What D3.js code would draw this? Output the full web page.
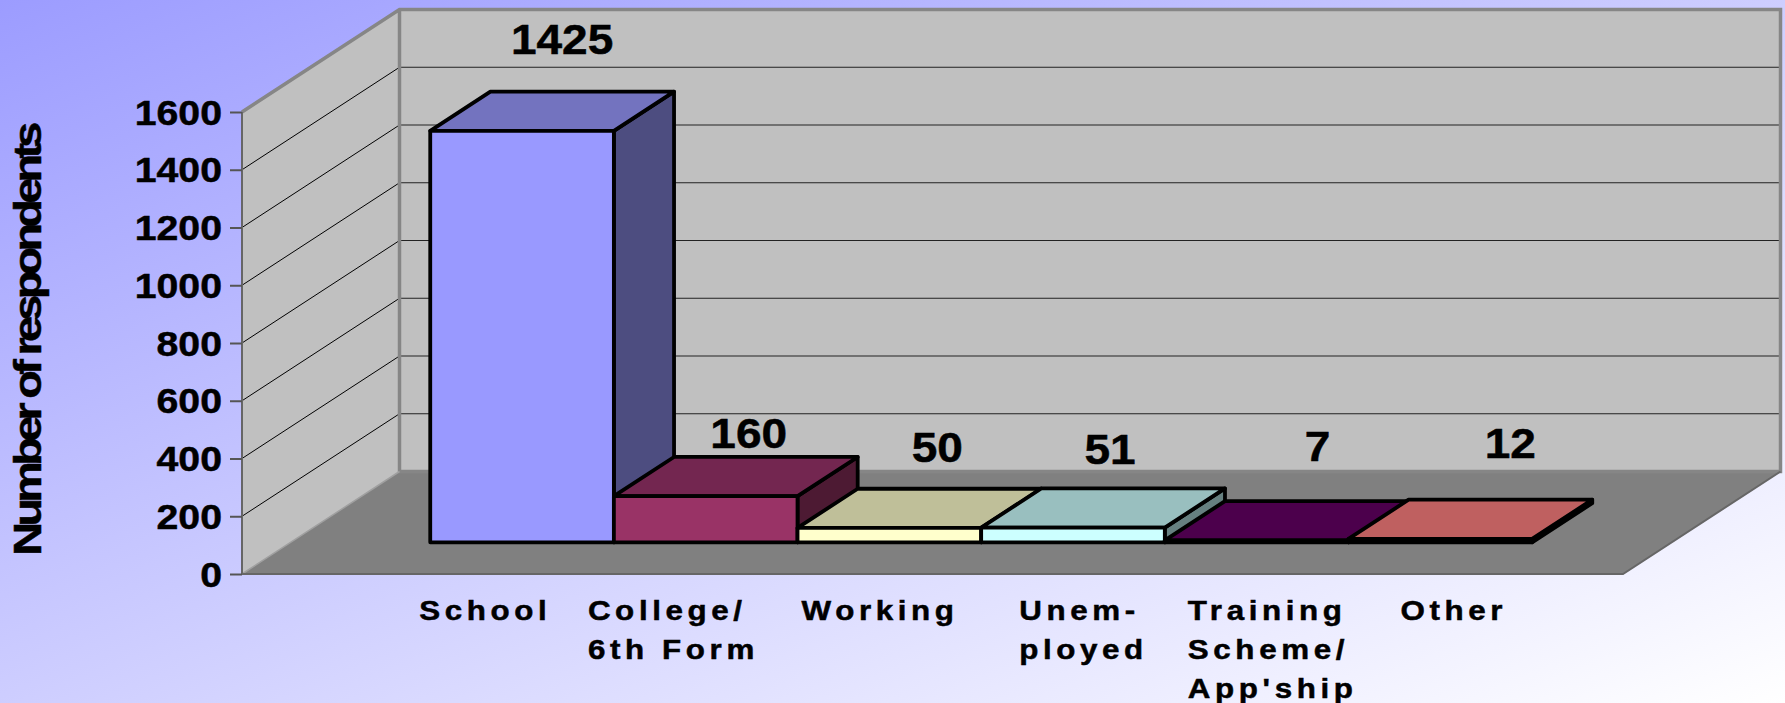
<!DOCTYPE html>
<html>
<head>
<meta charset="utf-8">
<script src="https://cdnjs.cloudflare.com/ajax/libs/d3/7.8.5/d3.min.js"></script>
<style>
  html, body { margin: 0; padding: 0; overflow: hidden; }
  svg { display: block; }
  text { font-family: "Liberation Sans", Arial, sans-serif; font-weight: bold; fill: #000; stroke: #000; stroke-width: 0.5px; }
</style>
</head>
<body>
<div id="chart"></div>
<script>
const categories = ["School", "College/ 6th Form", "Working", "Unem- ployed", "Training Scheme/ App'ship", "Other"];
const categoryLines = [["School"], ["College/", "6th Form"], ["Working"], ["Unem-", "ployed"], ["Training", "Scheme/", "App'ship"], ["Other"]];
const values = [1425, 160, 50, 51, 7, 12];
const yTicks = [0, 200, 400, 600, 800, 1000, 1200, 1400, 1600];
const frontColors = ["#9999ff", "#993366", "#ffffcc", "#ccffff", "#660066", "#ff8080"];
const topColors = ["#7373bf", "#732650", "#bfbf99", "#99bfbf", "#4c004c", "#bf6060"];
const sideColors = ["#4d4d80", "#4d1a33", "#808066", "#668080", "#330033", "#804040"];

var width = 1785, height = 703;
var stretch = 1.1;

// hand placed offsets of the labels, the original was dragged around
var valueNudgeX = [40, 43, 48, 37, 61, 70];
var valueNudgeY = [-77, -48, -66, -64, -79, -81];
var categoryLeft = [-11, -26, 4, 38, 23, 52];

var svg = d3.select("#chart").append("svg")
    .attr("width", width)
    .attr("height", height);

var grad = svg.append("defs").append("linearGradient")
    .attr("id", "bg")
    .attr("x1", 0).attr("y1", 0)
    .attr("x2", 1).attr("y2", 1);
grad.append("stop").attr("offset", "0%").attr("stop-color", "#9c9cff");
grad.append("stop").attr("offset", "100%").attr("stop-color", "#ffffff");

svg.append("rect")
    .attr("width", width)
    .attr("height", height)
    .attr("fill", "url(#bg)");

var x = d3.scaleBand().domain(categories).range([242, 1623]).paddingInner(0).paddingOuter(0.76);
var y = d3.scaleLinear().domain([0, 1600]).range([574, 112]);
var depthX = 157.5, depthY = 102.5;

// the bars stand in the middle of the floor
var z0 = 0.309, z1 = 0.691;

function px(a, z) { return a + z * depthX; }
function py(v, z) { return y(v) - z * depthY; }
function pts(list) {
    return list.map(function(p) { return px(p[0], p[2]) + "," + py(p[1], p[2]); }).join(" ");
}

var left = x.range()[0], right = x.range()[1], maxV = y.domain()[1];

// walls and floor
svg.append("polygon")
    .attr("points", pts([[left, maxV, 1], [right, maxV, 1], [right, 0, 1], [left, 0, 1]]))
    .attr("fill", "#c0c0c0");
svg.append("polygon")
    .attr("points", pts([[left, maxV, 0], [left, maxV, 1], [left, 0, 1], [left, 0, 0]]))
    .attr("fill", "#c0c0c0");
svg.append("polygon")
    .attr("points", pts([[left, 0, 0], [left, 0, 1], [right, 0, 1], [right, 0, 0]]))
    .attr("fill", "#808080");

// gridlines
var grid = yTicks.filter(function(d) { return d > 0 && d < maxV; });
svg.selectAll("line.back").data(grid).enter().append("line")
    .attr("class", "back")
    .attr("x1", px(left, 1)).attr("x2", px(right, 1))
    .attr("y1", function(d) { return py(d, 1); })
    .attr("y2", function(d) { return py(d, 1); })
    .attr("stroke", "#222").attr("stroke-width", 1.2);
svg.selectAll("line.side").data(grid.concat([])).enter().append("line")
    .attr("class", "side")
    .attr("x1", px(left, 0)).attr("x2", px(left, 1))
    .attr("y1", function(d) { return py(d, 0); })
    .attr("y2", function(d) { return py(d, 1); })
    .attr("stroke", "#000").attr("stroke-width", 1);

// wall edges
var edge = d3.line();
function edgeLine(list, color, w) {
    svg.append("path")
        .attr("d", edge(list.map(function(p) { return [px(p[0], p[2]), py(p[1], p[2])]; })))
        .attr("fill", "none")
        .attr("stroke", color)
        .attr("stroke-width", w);
}
edgeLine([[left, maxV, 0], [left, maxV, 1], [right, maxV, 1], [right, 0, 1], [left, 0, 1], [left, maxV, 1]], "#868686", 3.5);
edgeLine([[left, 0, 1], [left, 0, 0]], "#a0a0a0", 1.5);
edgeLine([[right, 0, 1], [right, 0, 0], [left, 0, 0], [left, maxV, 0]], "#666666", 2);

// y axis
var yAxis = d3.axisLeft(y).tickValues(yTicks).tickSize(12).tickPadding(8).tickFormat(d3.format("d"));
var yG = svg.append("g")
    .attr("transform", "translate(" + left + ",0)")
    .call(yAxis);
yG.select(".domain").remove();
yG.selectAll(".tick line").attr("stroke", "#555").attr("stroke-width", 2);
yG.selectAll(".tick text")
    .attr("x", 0)
    .attr("dy", "0.34em")
    .attr("font-size", 36)
    .attr("transform", "translate(-20,0) scale(1.09,1)");
yG.attr("font-family", null);

// bars, left to right so the later ones sit over the earlier
var bars = svg.selectAll("g.bar")
    .data(categories)
    .enter().append("g")
    .attr("class", "bar");

bars.each(function(c, i) {
    var g = d3.select(this), a = x(c), b = a + x.bandwidth(), v = values[i];
    var faces = [
        { p: [[b, 0, z0], [b, 0, z1], [b, v, z1], [b, v, z0]], fill: sideColors[i] },
        { p: [[a, v, z0], [a, v, z1], [b, v, z1], [b, v, z0]], fill: topColors[i] },
        { p: [[a, 0, z0], [b, 0, z0], [b, v, z0], [a, v, z0]], fill: frontColors[i] }
    ];
    g.selectAll("polygon").data(faces).enter().append("polygon")
        .attr("points", function(d) { return pts(d.p); })
        .attr("fill", function(d) { return d.fill; })
        .attr("stroke", "#000")
        .attr("stroke-width", 3.8)
        .attr("stroke-linejoin", "round");
});

// value labels
svg.selectAll("text.value")
    .data(values)
    .enter().append("text")
    .attr("class", "value")
    .attr("text-anchor", "middle")
    .attr("font-size", 43)
    .attr("transform", function(d, i) {
        var cx = px(x(categories[i]) + x.bandwidth() / 2, z0) + valueNudgeX[i];
        return "translate(" + cx + "," + (py(d, z0) + valueNudgeY[i]) + ") scale(1.07,1)";
    })
    .text(function(d) { return d; });

// category labels, several lines each
var labelTop = 620, lineStep = 39;
var cat = svg.selectAll("g.cat")
    .data(categoryLines)
    .enter().append("g")
    .attr("class", "cat")
    .attr("transform", function(d, i) {
        return "translate(" + (px(x(categories[i]), z0) + categoryLeft[i]) + "," + labelTop + ") scale(" + stretch + ",1)";
    });
cat.selectAll("text")
    .data(function(d) { return d; })
    .enter().append("text")
    .attr("y", function(d, i) { return i * lineStep; })
    .attr("font-size", 28.5)
    .attr("letter-spacing", 4.2)
    .text(function(d) { return d; });

// axis title
svg.append("text")
    .attr("text-anchor", "middle")
    .attr("font-size", 39)
    .attr("letter-spacing", -3.9)
    .attr("transform", "translate(41,341) rotate(-90) scale(1.2,1)")
    .text("Number of respondents");
</script>
</body>
</html>
